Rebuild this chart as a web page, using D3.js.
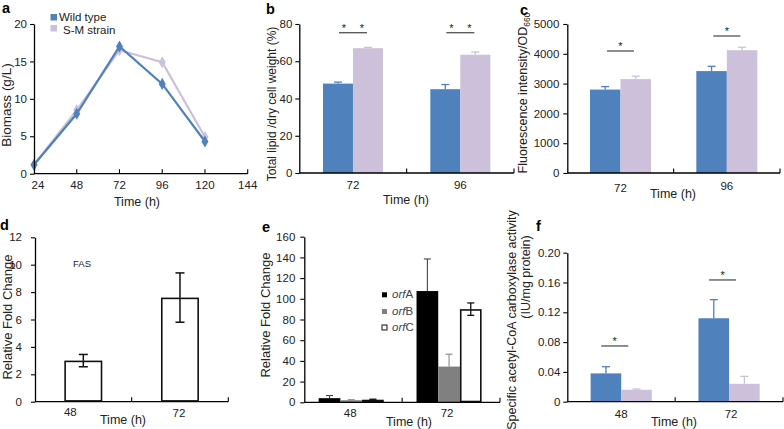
<!DOCTYPE html>
<html><head><meta charset="utf-8">
<script src="https://cdn.jsdelivr.net/npm/d3@7"></script>
<style>
html,body{margin:0;padding:0;background:#fff;}
svg text{font-family:"Liberation Sans",Arial,Helvetica,sans-serif;fill:#222;}
</style></head>
<body>
<svg id="fig" width="784" height="429"></svg>
<script>
// ---------- DATA ----------
// panel a: biomass
const aTimes = [24, 48, 72, 96, 120];
const aWild = [1.2, 8.0, 17.0, 12.0, 4.3];
const aSM = [1.2, 8.5, 16.5, 14.9, 4.9];
const aXTicks = [24, 48, 72, 96, 120, 144];
const aYTicks = [0, 5, 10, 15, 20];
const seriesNames = ["Wild type", "S-M strain"];

// panel b: total lipid / dry cell weight (%)
const bCats = ["72", "96"];
const bWild = [48, 45];
const bWildErr = [0.8, 2.5];
const bSM = [67, 63.5];
const bSMErr = [0.4, 1.5];
const bYTicks = [0, 20, 40, 60, 80];
const bSig = [75.3, 75.3];

// panel c: fluorescence intensity / OD660
const cCats = ["72", "96"];
const cWild = [2800, 3420];
const cWildErr = [100, 160];
const cSM = [3150, 4120];
const cSMErr = [100, 100];
const cYTicks = [0, 1000, 2000, 3000, 4000, 5000];
const cSig = [4094, 4597];

// panel d: FAS relative fold change
const dCats = ["48", "72"];
const dFAS = [3.0, 7.6];
const dFASErr = [0.45, 1.8];
const dYTicks = [0, 2, 4, 6, 8, 10, 12];

// panel e: orfA/B/C relative fold change
const eCats = ["48", "72"];
const eNames = ["A", "B", "C"];
const eOrfA = [4, 107.5];
const eOrfAErr = [2.5, 31];
const eOrfB = [2, 34.5];
const eOrfBErr = [0.5, 12];
const eOrfC = [2.5, 90];
const eOrfCErr = [0.5, 6];
const eYTicks = [0, 20, 40, 60, 80, 100, 120, 140, 160];

// panel f: acetyl-CoA carboxylase activity
const fCats = ["48", "72"];
const fWild = [0.038, 0.112];
const fWildErr = [0.009, 0.025];
const fSM = [0.016, 0.024];
const fSMErr = [0.001, 0.010];
const fYTicks = [0, 0.04, 0.08, 0.12, 0.16, 0.20];
const fYLabels = ["0", "0.04", "0.08", "0.12", "0.16", "0.20"];
const fSig = [0.0748, 0.1634];

// ---------- STYLE ----------
const BLUE = "#4f81bd", LAV = "#ccc0da";
const svg = d3.select("#fig");
svg.append("rect").attr("width", 784).attr("height", 429).attr("fill", "#fff");

function letter(t, x, y) {
  svg.append("text").attr("x", x).attr("y", y).attr("font-size", 14.5).attr("font-weight", "bold")
    .style("fill", "#000").text(t);
}
function ytitle(t, x, y, size) {
  return svg.append("text").attr("transform", `translate(${x},${y}) rotate(-90)`)
    .attr("text-anchor", "middle").attr("font-size", size || 13).text(t);
}
function xtitle(x, y) {
  svg.append("text").attr("x", x).attr("y", y).attr("text-anchor", "middle")
    .attr("font-size", 12.5).text("Time (h)");
}
function yAxis(y, left, ticks, labels, gap) {
  const g = svg.append("g").attr("transform", `translate(${left},0)`);
  const ax = d3.axisLeft(y).tickValues(ticks).tickSize(4).tickPadding(gap || 3)
    .tickSizeOuter(0);
  if (labels) ax.tickFormat((d, i) => labels[i]);
  else ax.tickFormat(d => String(d));
  g.call(ax);
  g.select(".domain").attr("stroke", "#000").attr("stroke-width", 1.3);
  g.selectAll(".tick line").attr("stroke", "#000").attr("stroke-width", 1.1);
  g.selectAll(".tick text").attr("font-size", 11.5).style("fill", "#222");
  return g;
}
function xBaseline(left, right, bottom, tickXs) {
  svg.append("line").attr("x1", left).attr("x2", right).attr("y1", bottom).attr("y2", bottom)
    .attr("stroke", "#000").attr("stroke-width", 1.3);
  tickXs.forEach(tx => svg.append("line").attr("x1", tx).attr("x2", tx)
    .attr("y1", bottom).attr("y2", bottom - 4.5).attr("stroke", "#000").attr("stroke-width", 1.1));
}

// generic grouped bar panel
function barPanel(o) {
  const x0 = d3.scaleBand().domain(o.cats).range([o.left, o.right]).padding(0);
  const y = d3.scaleLinear().domain([0, o.yMax]).range([o.bottom, o.top]);
  const n = o.series.length;
  const gw = o.barW * n;
  const g = svg.append("g");
  o.series.forEach((s, si) => {
    o.cats.forEach((c, ci) => {
      const cx = x0(c) + x0.bandwidth() / 2 + (o.offset || 0);
      const bx = cx - gw / 2 + si * o.barW;
      const v = s.vals[ci], e = s.errs[ci];
      const sw = s.stroke ? 1.6 : 0;
      const ex = bx + o.barW / 2;
      const capW = o.capW || 8;
      const eTop = y(v + e), eBot = s.errBoth ? y(v - e) : y(v);
      g.append("line").attr("x1", ex).attr("x2", ex).attr("y1", eTop).attr("y2", y(v))
        .attr("stroke", s.errColor).attr("stroke-width", s.errW || 1.3);
      g.append("line").attr("x1", ex - capW / 2).attr("x2", ex + capW / 2).attr("y1", eTop).attr("y2", eTop)
        .attr("stroke", s.errColor).attr("stroke-width", s.errW || 1.3);
      g.append("rect").attr("x", bx + sw / 2).attr("y", y(v) + sw / 2)
        .attr("width", o.barW - sw).attr("height", Math.max(0, y(0) - y(v) - sw))
        .attr("fill", s.color).attr("stroke", s.stroke || "none").attr("stroke-width", sw);
      if (s.errBoth) {
        g.append("line").attr("x1", ex).attr("x2", ex).attr("y1", y(v)).attr("y2", eBot)
          .attr("stroke", s.errColor).attr("stroke-width", s.errW || 1.3);
        g.append("line").attr("x1", ex - capW / 2).attr("x2", ex + capW / 2).attr("y1", eBot).attr("y2", eBot)
          .attr("stroke", s.errColor).attr("stroke-width", s.errW || 1.3);
      }
    });
  });
  yAxis(y, o.left, o.yTicks, o.yLabels, o.tickGap);
  xBaseline(o.left, o.right, o.bottom, o.cats.map(c => x0(c) + x0.bandwidth()));
  o.cats.forEach((c, ci) => {
    svg.append("text").attr("x", x0(c) + x0.bandwidth() / 2 + (o.labelOff ? o.labelOff[ci] : 0))
      .attr("y", o.labelY[ci]).attr("text-anchor", "middle").attr("font-size", 11.5).text(c);
  });
  if (o.sig) {
    o.cats.forEach((c, ci) => {
      const cx = x0(c) + x0.bandwidth() / 2 + (o.sigOff || 0);
      const ly = y(o.sig[ci]);
      svg.append("line").attr("x1", cx - o.sigHalf).attr("x2", cx + o.sigHalf).attr("y1", ly).attr("y2", ly)
        .attr("stroke", "#333").attr("stroke-width", 1.1);
      o.sigStars.forEach(dx => svg.append("text").attr("x", cx + dx).attr("y", ly - 1)
        .attr("text-anchor", "middle").attr("font-size", 11).text("*"));
    });
  }
  return { x0, y };
}

// ---------- PANEL A ----------
{
  const left = 34, right = 247.7, top = 24, bottom = 173.7;
  const x = d3.scaleLinear().domain([24, 144]).range([left, right]);
  const y = d3.scaleLinear().domain([0, 20]).range([bottom, top]);
  const line = d3.line().x((d, i) => x(aTimes[i])).y(d => y(d));
  [[aSM, LAV], [aWild, BLUE]].forEach(([vals, col]) => {
    svg.append("path").attr("d", line(vals)).attr("fill", "none").attr("stroke", col).attr("stroke-width", 2.2);
    vals.forEach((v, i) => svg.append("path").attr("d", d3.symbol(d3.symbolDiamond, 42)())
      .attr("transform", `translate(${x(aTimes[i])},${y(v)})`).attr("fill", col));
  });
  yAxis(y, left, aYTicks, null, 3);
  svg.append("line").attr("x1", left).attr("x2", right).attr("y1", bottom).attr("y2", bottom)
    .attr("stroke", "#000").attr("stroke-width", 1.3);
  aXTicks.forEach(t => {
    if (t !== 24) svg.append("line").attr("x1", x(t)).attr("x2", x(t)).attr("y1", bottom).attr("y2", bottom - 4.5)
      .attr("stroke", "#000").attr("stroke-width", 1.1);
    svg.append("text").attr("x", x(t) + (t === 24 ? 4 : 0)).attr("y", 189).attr("text-anchor", "middle")
      .attr("font-size", 11.5).text(t);
  });
  svg.append("rect").attr("x", 50.5).attr("y", 14).attr("width", 6.5).attr("height", 6.5).attr("fill", BLUE);
  svg.append("text").attr("x", 59).attr("y", 21).attr("font-size", 11.5).text(seriesNames[0]);
  svg.append("rect").attr("x", 50.5).attr("y", 25).attr("width", 6.5).attr("height", 6.5).attr("fill", LAV);
  svg.append("text").attr("x", 63).attr("y", 33.5).attr("font-size", 11.5).text(seriesNames[1]);
  letter("a", 2, 13);
  ytitle("Biomass (g/L)", 11, 105, 13.5);
  xtitle(137, 206);
}

// ---------- PANEL B ----------
barPanel({
  left: 299.3, right: 514, top: 24, bottom: 173, cats: bCats, yMax: 80, yTicks: bYTicks,
  barW: 30, labelY: [189, 189], tickGap: 3,
  series: [
    { vals: bWild, errs: bWildErr, color: BLUE, errColor: BLUE },
    { vals: bSM, errs: bSMErr, color: LAV, errColor: LAV }
  ],
  sig: bSig, sigHalf: 14, sigStars: [-9, 9]
});
letter("b", 266, 14);
ytitle("Total lipid /dry cell weight (%)", 276, 104, 12);
xtitle(406, 204);

// ---------- PANEL C ----------
barPanel({
  left: 567.3, right: 780, top: 24, bottom: 173, cats: cCats, yMax: 5000, yTicks: cYTicks,
  barW: 30.5, labelY: [192, 190], tickGap: 4,
  series: [
    { vals: cWild, errs: cWildErr, color: BLUE, errColor: BLUE },
    { vals: cSM, errs: cSMErr, color: LAV, errColor: LAV }
  ],
  sig: cSig, sigHalf: 13.5, sigStars: [0]
});
letter("c", 520, 15);
{
  const t = ytitle("Fluorescence intensity/OD", 527, 93, 12.5);
  t.append("tspan").attr("font-size", 8.5).attr("dy", 3).text("660");
}
xtitle(673, 198);

// ---------- PANEL D ----------
barPanel({
  left: 35, right: 228.3, top: 237.3, bottom: 401.7, cats: dCats, yMax: 12, yTicks: dYTicks,
  barW: 38, labelY: [416, 417], labelOff: [-13, -1], tickGap: 9, capW: 9,
  series: [
    { vals: dFAS, errs: dFASErr, color: "#fff", stroke: "#111", errColor: "#111", errBoth: true, errW: 1.5 }
  ]
});
svg.append("text").attr("x", 82).attr("y", 267).attr("text-anchor", "middle").attr("font-size", 9.5).text("FAS");
letter("d", 0, 230);
ytitle("Relative Fold Change", 12, 317, 13);
xtitle(123, 424);

// ---------- PANEL E ----------
barPanel({
  left: 304.3, right: 500, top: 236.7, bottom: 402.3, cats: eCats, yMax: 160, yTicks: eYTicks,
  barW: 21.7, offset: -2, labelY: [417, 417], labelOff: [-3, -4], tickGap: 5, capW: 7,
  series: [
    { vals: eOrfA, errs: eOrfAErr, color: "#000", errColor: "#444", errW: 1.1 },
    { vals: eOrfB, errs: eOrfBErr, color: "#808080", errColor: "#888", errW: 1.1 },
    { vals: eOrfC, errs: eOrfCErr, color: "#fff", stroke: "#111", errColor: "#111", errBoth: true, errW: 1.3 }
  ]
});
{
  const fills = ["#000", "#808080", "#fff"];
  const ys = [292.3, 309, 325];
  eNames.forEach((nm, i) => {
    svg.append("rect").attr("x", 382).attr("y", ys[i]).attr("width", 5).attr("height", 5)
      .attr("fill", fills[i]).attr("stroke", i === 2 ? "#111" : "none").attr("stroke-width", 1);
    const t = svg.append("text").attr("x", 392).attr("y", ys[i] + 6).attr("font-size", 11.5).style("fill", "#444");
    t.append("tspan").attr("font-style", "italic").text("orf");
    t.append("tspan").text(nm);
  });
}
letter("e", 262, 232);
ytitle("Relative Fold Change", 270, 315, 13);
xtitle(409, 426);

// ---------- PANEL F ----------
barPanel({
  left: 567.3, right: 783, top: 252.7, bottom: 401.7, cats: fCats, yMax: 0.2, yTicks: fYTicks,
  yLabels: fYLabels, barW: 30.6, labelY: [418, 418], labelOff: [0, 2], tickGap: 3,
  series: [
    { vals: fWild, errs: fWildErr, color: BLUE, errColor: BLUE },
    { vals: fSM, errs: fSMErr, color: LAV, errColor: LAV }
  ],
  sig: fSig, sigHalf: 13.5, sigStars: [0], sigOff: -6.5
});
letter("f", 536, 231);
ytitle("Specific acetyl-CoA carboxylase activity", 515.5, 320, 12.5);
ytitle("(IU/mg protein)", 530, 277, 12.5);
xtitle(674, 426);
</script>
</body></html>
